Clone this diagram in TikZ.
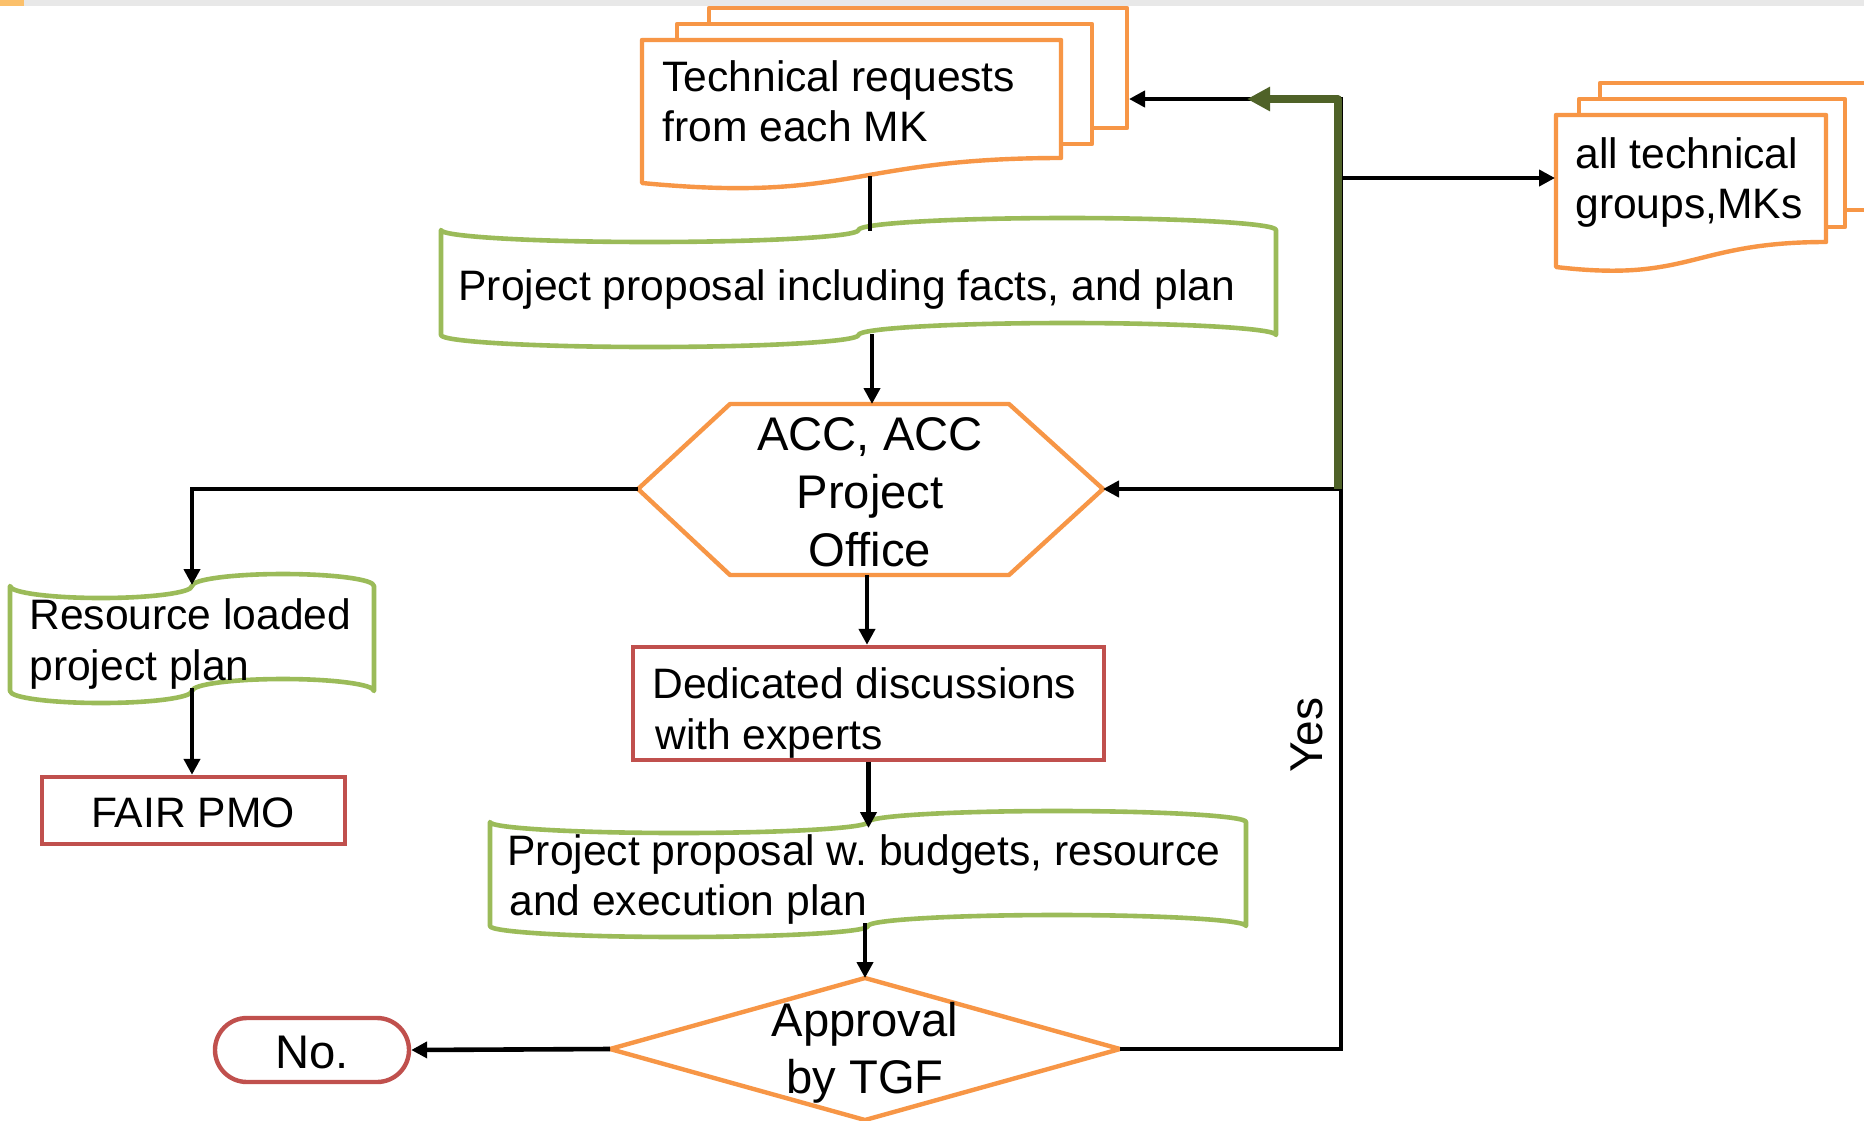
\documentclass[tikz,border=0pt]{standalone}
\usepackage{fontspec}
\setmainfont{Liberation Sans}
\usetikzlibrary{arrows.meta}
\frenchspacing
\definecolor{cOrange}{HTML}{F79646}
\definecolor{cGreen}{HTML}{9BBB59}
\definecolor{cRed}{HTML}{C0504D}
\definecolor{cOlive}{HTML}{4F6228}
\definecolor{cBand}{HTML}{E8E8E8}
\definecolor{cMark}{HTML}{FBC06B}
% punched-tape shape: #1 style, #2 left, #3 right, #4 top base, #5 bottom base, #6 amplitude
\newcommand{\tapeshape}[6]{%
  \pgfmathsetmacro{\tpA}{#2+(#3-#2)/4}%
  \pgfmathsetmacro{\tpB}{#2+(#3-#2)/2}%
  \pgfmathsetmacro{\tpC}{#2+3*(#3-#2)/4}%
  \pgfmathsetmacro{\tpK}{0.5523*(#3-#2)/4}%
  \pgfmathsetmacro{\tpH}{0.5523*#6}%
  \draw[#1] (#2,#4)
    .. controls (#2,#4+\tpH) and (\tpA-\tpK,#4+#6) .. (\tpA,#4+#6)
    .. controls (\tpA+\tpK,#4+#6) and (\tpB,#4+\tpH) .. (\tpB,#4)
    .. controls (\tpB,#4-\tpH) and (\tpC-\tpK,#4-#6) .. (\tpC,#4-#6)
    .. controls (\tpC+\tpK,#4-#6) and (#3,#4-\tpH) .. (#3,#4)
    -- (#3,#5)
    .. controls (#3,#5-\tpH) and (\tpC+\tpK,#5-#6) .. (\tpC,#5-#6)
    .. controls (\tpC-\tpK,#5-#6) and (\tpB,#5-\tpH) .. (\tpB,#5)
    .. controls (\tpB,#5+\tpH) and (\tpA+\tpK,#5+#6) .. (\tpA,#5+#6)
    .. controls (\tpA-\tpK,#5+#6) and (#2,#5+\tpH) .. (#2,#5)
    -- cycle;}
% document shape: #1 style, #2 left, #3 top, #4 right, #5 bottom right, #6 control y, #7 bottom left
\newcommand{\docshape}[7]{%
  \pgfmathsetmacro{\dcM}{(#2+#4)/2}%
  \draw[#1] (#2,#3) -- (#4,#3) -- (#4,#5)
    .. controls (\dcM,#5) and (\dcM,#6) .. (#2,#7) -- cycle;}
\begin{document}
\begin{tikzpicture}[x=0.5pt,y=-0.5pt,
  orangeshape/.style={draw=cOrange,fill=white,line width=2.2pt,line join=round},
  greenshape/.style={draw=cGreen,fill=white,line width=2.3pt,line join=round},
  redbox/.style={draw=cRed,fill=white,line width=2.2pt,inner sep=0pt},
  conn/.style={draw=black,line width=2.3pt,-{Triangle[length=8pt,width=8pt]}},
  plainconn/.style={draw=black,line width=2.3pt},
  greenconn/.style={draw=cOlive,line width=3.6pt,line join=round,-{Triangle[length=11.5pt,width=11.5pt]}},
  txt/.style={inner sep=0pt,anchor=base west,font=\fontsize{21.3}{25}\selectfont},
  ctxt/.style={inner sep=0pt,anchor=base,font=\fontsize{21.3}{25}\selectfont},
  bigtxt/.style={inner sep=0pt,anchor=base,font=\fontsize{23.6}{28}\selectfont}]
\useasboundingbox (0,0) rectangle (1864,1120);
\fill[white] (0,0) rectangle (1864,1120);
% slide band
\fill[cBand] (0,0) rectangle (1864,6);
\fill[cMark] (0,0) rectangle (24,6);

% ---- Technical requests (multi-document)
\draw[orangeshape] (709,8) rectangle (1127,128);
\draw[orangeshape] (677,24) rectangle (1092,144);
\docshape{orangeshape}{642}{40}{1061}{158}{203}{183}
\node[txt] (tr1) at (662,91) {Technical requests};
\node[txt] (tr2) at (662,141) {from each MK};
\coordinate (trB) at (870,176);
\coordinate (trR) at (1129,99);

% ---- all technical groups (multi-document)
\fill[white] (1600,83) rectangle (1864,210);
\draw[draw=cOrange,line width=2.2pt,line join=round] (1866,83) -- (1600,83) -- (1600,210) -- (1866,210);
\draw[orangeshape] (1579,99) rectangle (1845,227);
\docshape{orangeshape}{1556}{115}{1826}{242}{283}{267}
\node[txt] (ag1) at (1575,168) {all technical};
\node[txt] (ag2) at (1575,218) {groups,MKs};
\coordinate (agL) at (1555,178);

% ---- Project proposal tape
\tapeshape{greenshape}{441}{1276}{230}{335}{12}
\node[txt] (pp1) at (458,300) {Project proposal including facts, and plan};
\coordinate (ppT) at (870,231);
\coordinate (ppB) at (872,334);

% ---- Hexagon
\draw[orangeshape] (638,489) -- (730,404) -- (1009,404) -- (1103,489) -- (1009,575) -- (730,575) -- cycle;
\node[bigtxt] (hx1) at (870,450) {ACC, ACC};
\node[bigtxt] (hx2) at (870,508) {Project};
\node[bigtxt] (hx3) at (870,566) {Office};
\coordinate (hexT) at (872,404);
\coordinate (hexL) at (638,489);
\coordinate (hexR) at (1103,489);
\coordinate (hexB) at (867,575);

% ---- Resource loaded project plan tape
\tapeshape{greenshape}{10}{374}{586}{691}{12}
\node[txt] (rl1) at (29,629) {Resource loaded};
\node[txt] (rl2) at (29,680) {project plan};
\coordinate (resT) at (192,585);
\coordinate (resB) at (192,688);

% ---- FAIR PMO
\node[redbox,minimum width=151.5pt,minimum height=33.5pt] (pmo) at (193.5,810.5) {};
\node[ctxt] (pmoT) at (193,827) {FAIR PMO};

% ---- Dedicated discussions
\node[redbox,minimum width=235.5pt,minimum height=56.5pt] (ded) at (868.5,703.5) {};
\node[txt] (dd1) at (652,698) {Dedicated discussions};
\node[txt] (dd2) at (655,749) {with experts};

% ---- Project proposal w. budgets tape
\tapeshape{greenshape}{490}{1246}{822}{926}{11}
\node[txt] (pb1) at (507,865) {Project proposal w. budgets, resource};
\node[txt] (pb2) at (509,915) {and execution plan};
\coordinate (pbT) at (868.5,828);
\coordinate (pbB) at (865,923);

% ---- Approval diamond
\draw[orangeshape] (610,1049) -- (865,978) -- (1120,1049) -- (865,1120) -- cycle;
\node[bigtxt] (ap1) at (865,1036) {Approval};
\node[bigtxt] (ap2) at (865,1093) {by TGF};
\coordinate (diaT) at (865,978);
\coordinate (diaL) at (610,1049);
\coordinate (diaR) at (1120,1049);

% ---- No. terminator
\node[redbox,minimum width=97pt,minimum height=32pt,rounded corners=16pt] (no) at (312,1050) {};
\node[bigtxt] (noT) at (312,1068) {No.};

% ---- Yes label
\node[inner sep=0pt,anchor=base,rotate=90,font=\fontsize{23}{27}\selectfont] (yes) at (1322,735) {Yes};

% ---- connectors
\draw[plainconn] (trB) -- (ppT);
\draw[conn] (ppB) -- (hexT);
\draw[conn] (hexB) -- (hexB |- ded.north);
\draw[conn] (ded.south) -- (ded.south |- pbT);
\draw[conn] (pbB) -- (diaT);
\draw[conn] (hexL) -| (resT);
\draw[conn] (resB) -- (resB |- pmo.north);
\draw[conn] (diaL) -- (no.east);
\coordinate (loopB) at (1341,1049);
\coordinate (loopT) at (1341,99);
\coordinate (loopH) at (1341,489);
\coordinate (loopM) at (1341,178);
\draw[conn,line join=miter] (diaR) -- (loopB) -- (loopT) -- (trR);
\draw[conn] (loopH) -- (hexR);
\draw[conn] (loopM) -- (agL);
\coordinate (gB) at (1338,489);
\coordinate (gT) at (1338,99);
\coordinate (gTip) at (1247,99);
\draw[greenconn] (gB) -- (gT) -- (gTip);
\end{tikzpicture}
\end{document}
